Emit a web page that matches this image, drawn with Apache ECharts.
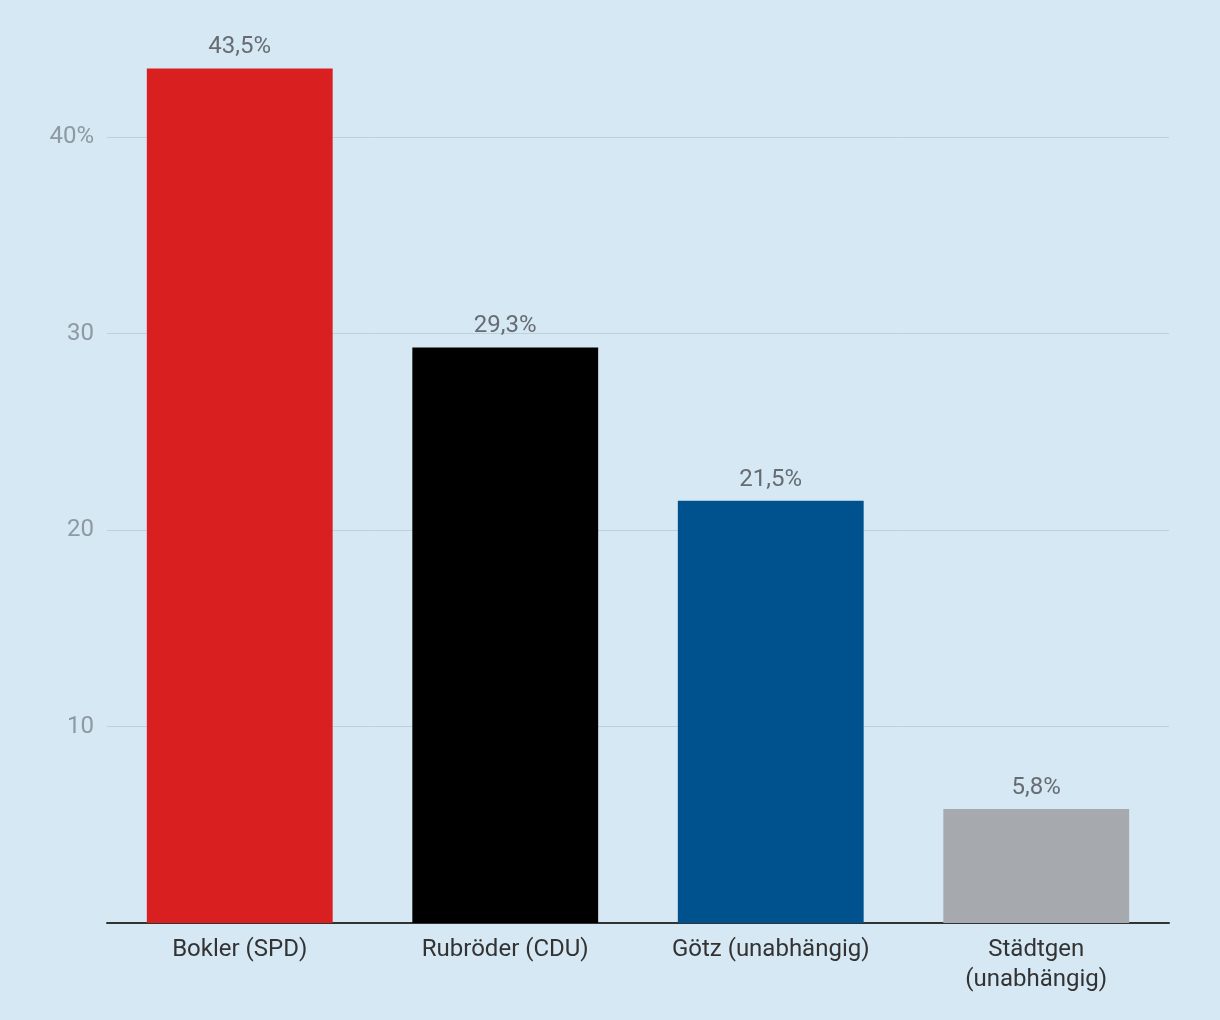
<!DOCTYPE html>
<html><head><meta charset="utf-8">
<script src="https://cdn.jsdelivr.net/npm/echarts@6/dist/echarts.min.js"></script>
<style>html,body{margin:0;padding:0;background:#d6e8f4;}#c{width:1220px;height:1020px;}</style>
</head><body><div id="c"></div>
<script>
const categories = ['Bokler (SPD)', 'Rubröder (CDU)', 'Götz (unabhängig)', 'Städtgen\n(unabhängig)'];
const values = [43.5, 29.3, 21.5, 5.8];
const barColors = ['#d91f1f', '#000000', '#00528f', '#a6aaae'];
const yTicks = [0, 10, 20, 30, 40];

const chart = echarts.init(document.getElementById('c'), null, {renderer: 'canvas'});
chart.setOption({
  backgroundColor: '#d6e8f4',
  animation: false,
  grid: {left: 107, right: 51, top: 39, bottom: 97, containLabel: false},
  xAxis: {
    type: 'category',
    data: categories,
    axisLine: {lineStyle: {color: '#333333', width: 2}},
    axisTick: {show: false},
    axisLabel: {color: '#333333', fontFamily: 'Roboto', fontSize: 24, margin: 12, lineHeight: 30, interval: 0}
  },
  yAxis: {
    type: 'value',
    min: 0, max: 45, interval: 10,
    axisLine: {show: false},
    axisTick: {show: false},
    splitLine: {lineStyle: {color: ['#bfd0dd', '#bfd0dd', '#bfd0dd', '#bfd0dd', '#bfd0dd', 'rgba(0,0,0,0)'], width: 1}},
    axisLabel: {
      color: '#8e99a2', fontFamily: 'Roboto', fontSize: 24, margin: 13, padding: [4, 0, 0, 0],
      formatter: function (v) {
        if (yTicks.indexOf(v) < 0 || v === 0) return '';
        return v === 40 ? v + '%' : String(v);
      }
    }
  },
  series: [{
    type: 'bar',
    barWidth: '70%',
    data: values.map((v, i) => ({value: v, itemStyle: {color: barColors[i]}})),
    label: {
      show: true, position: 'top', distance: 9,
      color: '#666c72', fontFamily: 'Roboto', fontSize: 24,
      formatter: p => String(p.value).replace('.', ',') + '%'
    }
  }]
});
</script></body></html>
